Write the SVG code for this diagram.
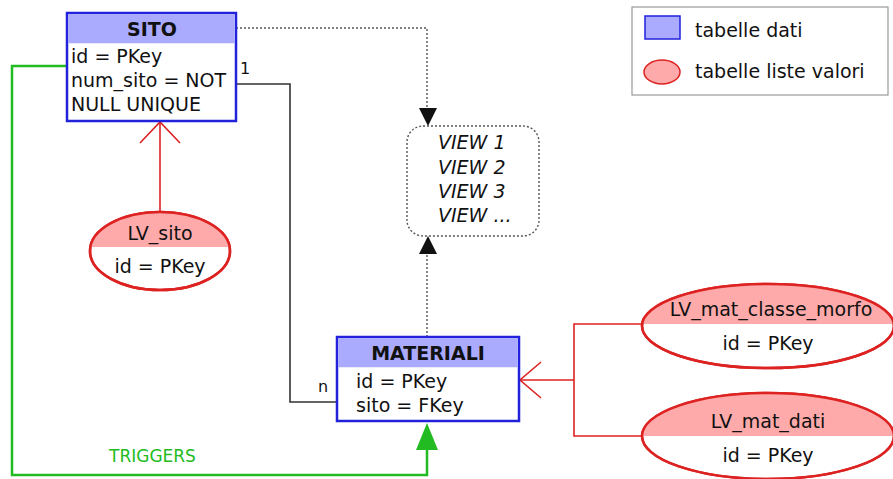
<svg xmlns="http://www.w3.org/2000/svg" width="893" height="479" viewBox="0 0 893 479">
<style>
text{font-family:"DejaVu Sans",Verdana,sans-serif;font-size:19px;fill:#111}
.tb{fill:#fff;stroke:#2222dd;stroke-width:2.5}
.th{fill:#aaaaff}
.b{font-weight:bold}
.lv{fill:#fff;stroke:#dd2222;stroke-width:2.5}
.lh{fill:#ffaaaa}
.r{fill:none;stroke:#dd2222;stroke-width:1.6}
.k{fill:none;stroke:#333;stroke-width:1.6}
.d{fill:none;stroke:#555;stroke-width:1.4;stroke-dasharray:2,2}
.g{fill:none;stroke:#22bb22;stroke-width:2.5}
.it{font-style:italic}
</style>
<defs>
<clipPath id="c1"><ellipse cx="160" cy="251" rx="70" ry="39"/></clipPath>
<clipPath id="c2"><ellipse cx="768" cy="326" rx="126" ry="42"/></clipPath>
<clipPath id="c3"><ellipse cx="768" cy="436" rx="126" ry="43"/></clipPath>
</defs>
<g id="connectors">
<polyline class="g" points="67,66 12,66 12,475 427,475 427,450"/>
<polygon points="427,423 416,450 438,450" fill="#22bb22"/>
<polyline class="k" points="236,84 290,84 290,402 337,402"/>
<polyline class="d" points="236,28 427,28 427,110"/>
<polygon points="419,108 437,108 428,126" fill="#111"/>
<polyline class="d" points="427,337 427,253"/>
<polygon points="419,254 437,254 428,236" fill="#111"/>
<line class="r" x1="160" y1="212" x2="160" y2="122"/>
<polyline class="r" points="140,143 160,122 180,143"/>
<polyline class="r" points="643,324 574,324 574,436 643,436"/>
<line class="r" x1="574" y1="380" x2="520" y2="380"/>
<polyline class="r" points="541,362 520,380 541,398"/>
<text x="240" y="74" style="font-size:16px">1</text>
<text x="318" y="392" style="font-size:16px">n</text>
<text x="109" y="462" style="fill:#22bb22;font-size:17px">TRIGGERS</text>
</g>
<g id="sito">
<rect class="tb" x="67" y="13" width="169" height="108"/>
<rect class="th" x="68.25" y="14.25" width="166.5" height="29"/>
<text x="152" y="36" text-anchor="middle" class="b">SITO</text>
<text x="71" y="63">id = PKey</text>
<text x="71" y="87">num_sito = NOT</text>
<text x="71" y="111">NULL UNIQUE</text>
</g>
<g id="views">
<rect class="d" x="407" y="126" width="132" height="110" rx="16"/>
<text x="438" y="149" class="it">VIEW 1</text>
<text x="438" y="174" class="it">VIEW 2</text>
<text x="438" y="198" class="it">VIEW 3</text>
<text x="438" y="222" class="it">VIEW ...</text>
</g>
<g id="materiali">
<rect class="tb" x="337" y="337" width="182" height="84"/>
<rect class="th" x="338.25" y="338.25" width="179.5" height="29"/>
<text x="428" y="360" text-anchor="middle" class="b">MATERIALI</text>
<text x="356" y="388">id = PKey</text>
<text x="356" y="412">sito = FKey</text>
</g>
<g id="lv_sito">
<ellipse class="lv" cx="160" cy="251" rx="70" ry="39"/>
<rect class="lh" x="88" y="210" width="144" height="37" clip-path="url(#c1)"/>
<ellipse cx="160" cy="251" rx="70" ry="39" fill="none" stroke="#dd2222" stroke-width="2.5"/>
<text x="160" y="240" text-anchor="middle">LV_sito</text>
<text x="160" y="273" text-anchor="middle">id = PKey</text>
</g>
<g id="lv_mat_classe_morfo">
<ellipse class="lv" cx="768" cy="326" rx="126" ry="42"/>
<rect class="lh" x="640" y="282" width="256" height="42" clip-path="url(#c2)"/>
<ellipse cx="768" cy="326" rx="126" ry="42" fill="none" stroke="#dd2222" stroke-width="2.5"/>
<text x="771" y="316" text-anchor="middle">LV_mat_classe_morfo</text>
<text x="768" y="350" text-anchor="middle">id = PKey</text>
</g>
<g id="lv_mat_dati">
<ellipse class="lv" cx="768" cy="436" rx="126" ry="43"/>
<rect class="lh" x="640" y="391" width="256" height="45" clip-path="url(#c3)"/>
<ellipse cx="768" cy="436" rx="126" ry="43" fill="none" stroke="#dd2222" stroke-width="2.5"/>
<text x="768" y="428" text-anchor="middle">LV_mat_dati</text>
<text x="768" y="462" text-anchor="middle">id = PKey</text>
</g>
<g id="legend">
<rect x="632" y="7" width="256" height="88" fill="#fff" stroke="#999" stroke-width="1.2"/>
<rect x="645" y="16" width="35" height="23" fill="#aaaaff" stroke="#2222dd" stroke-width="1.5"/>
<text x="695" y="37">tabelle dati</text>
<ellipse cx="662" cy="72" rx="18" ry="12" fill="#ffaaaa" stroke="#dd2222" stroke-width="1.5"/>
<text x="695" y="78">tabelle liste valori</text>
</g>
</svg>
